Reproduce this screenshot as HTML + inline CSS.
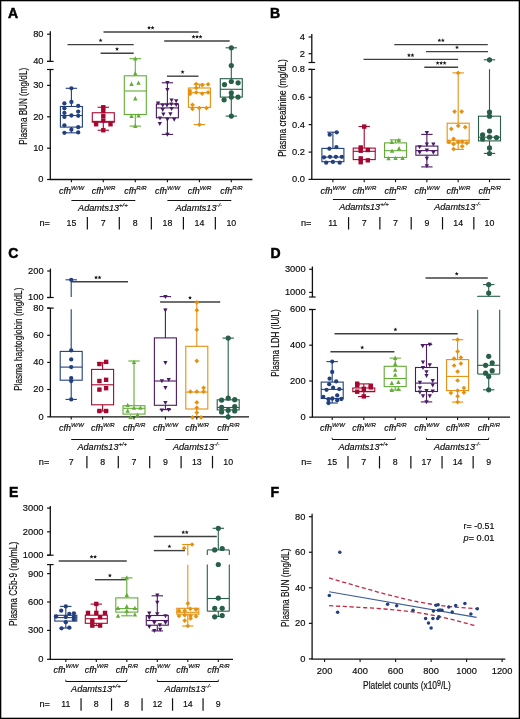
<!DOCTYPE html>
<html><head><meta charset="utf-8"><style>
html,body{margin:0;padding:0;background:#fff;}
svg{display:block;font-family:"Liberation Sans",sans-serif;will-change:transform;}
text{stroke:#0a0a0a;stroke-width:0.16px;}
text.pl{stroke:#000;stroke-width:0.5px;}
</style></head><body>
<svg width="520" height="719" viewBox="0 0 520 719">
<rect x="0" y="0" width="520" height="719" fill="#fff"/>
<text x="8" y="18.2" font-size="14" font-weight="bold" fill="#000" class="pl">A</text>
<line x1="50.30" y1="31.30" x2="50.30" y2="61.40" stroke="#111" stroke-width="1.3"/>
<line x1="47.00" y1="61.40" x2="53.60" y2="61.40" stroke="#111" stroke-width="1.2"/>
<line x1="50.30" y1="69.50" x2="50.30" y2="179.50" stroke="#111" stroke-width="1.3"/>
<line x1="47.00" y1="69.50" x2="53.60" y2="69.50" stroke="#111" stroke-width="1.2"/>
<line x1="47.10" y1="34.20" x2="50.30" y2="34.20" stroke="#111" stroke-width="1.2"/>
<text x="43.50" y="37.10" font-size="9.3" text-anchor="end" fill="#0a0a0a">80</text>
<line x1="47.10" y1="61.40" x2="50.30" y2="61.40" stroke="#111" stroke-width="1.2"/>
<text x="43.50" y="64.30" font-size="9.3" text-anchor="end" fill="#0a0a0a">40</text>
<line x1="47.10" y1="85.40" x2="50.30" y2="85.40" stroke="#111" stroke-width="1.2"/>
<text x="43.50" y="88.30" font-size="9.3" text-anchor="end" fill="#0a0a0a">30</text>
<line x1="47.10" y1="116.80" x2="50.30" y2="116.80" stroke="#111" stroke-width="1.2"/>
<text x="43.50" y="119.70" font-size="9.3" text-anchor="end" fill="#0a0a0a">20</text>
<line x1="47.10" y1="148.20" x2="50.30" y2="148.20" stroke="#111" stroke-width="1.2"/>
<text x="43.50" y="151.10" font-size="9.3" text-anchor="end" fill="#0a0a0a">10</text>
<line x1="47.10" y1="179.50" x2="50.30" y2="179.50" stroke="#111" stroke-width="1.2"/>
<text x="43.50" y="182.40" font-size="9.3" text-anchor="end" fill="#0a0a0a">0</text>
<line x1="49.70" y1="179.50" x2="252.40" y2="179.50" stroke="#111" stroke-width="1.3"/>
<line x1="71.40" y1="179.50" x2="71.40" y2="182.30" stroke="#111" stroke-width="1.1"/>
<line x1="103.30" y1="179.50" x2="103.30" y2="182.30" stroke="#111" stroke-width="1.1"/>
<line x1="135.30" y1="179.50" x2="135.30" y2="182.30" stroke="#111" stroke-width="1.1"/>
<line x1="167.40" y1="179.50" x2="167.40" y2="182.30" stroke="#111" stroke-width="1.1"/>
<line x1="199.40" y1="179.50" x2="199.40" y2="182.30" stroke="#111" stroke-width="1.1"/>
<line x1="231.30" y1="179.50" x2="231.30" y2="182.30" stroke="#111" stroke-width="1.1"/>
<text transform="translate(26.96,106.30) rotate(-90)" x="0" y="0" font-size="10.0" text-anchor="middle" textLength="76.8" lengthAdjust="spacingAndGlyphs" fill="#0a0a0a">Plasma BUN (mg/dL)</text>
<text x="71.60" y="193.9" font-size="9.0" font-style="italic" text-anchor="middle" fill="#0a0a0a">cfh<tspan dy="-4.3" font-size="6.0">W/W</tspan></text>
<text x="103.50" y="193.9" font-size="9.0" font-style="italic" text-anchor="middle" fill="#0a0a0a">cfh<tspan dy="-4.3" font-size="6.0">W/R</tspan></text>
<text x="135.50" y="193.9" font-size="9.0" font-style="italic" text-anchor="middle" fill="#0a0a0a">cfh<tspan dy="-4.3" font-size="6.0">R/R</tspan></text>
<text x="167.60" y="193.9" font-size="9.0" font-style="italic" text-anchor="middle" fill="#0a0a0a">cfh<tspan dy="-4.3" font-size="6.0">W/W</tspan></text>
<text x="199.60" y="193.9" font-size="9.0" font-style="italic" text-anchor="middle" fill="#0a0a0a">cfh<tspan dy="-4.3" font-size="6.0">W/R</tspan></text>
<text x="231.50" y="193.9" font-size="9.0" font-style="italic" text-anchor="middle" fill="#0a0a0a">cfh<tspan dy="-4.3" font-size="6.0">R/R</tspan></text>
<line x1="71.40" y1="200.50" x2="135.30" y2="200.50" stroke="#111" stroke-width="1.15"/>
<line x1="167.40" y1="200.50" x2="231.30" y2="200.50" stroke="#111" stroke-width="1.15"/>
<text x="78.10" y="211.0" font-size="9.1" font-style="italic" fill="#0a0a0a">Adamts13<tspan dy="-4.2" font-size="6">+/+</tspan></text>
<text x="175.50" y="211.0" font-size="9.1" font-style="italic" fill="#0a0a0a">Adamts13<tspan dy="-4.2" font-size="6">-/-</tspan></text>
<text x="39.5" y="226.0" font-size="8.6" textLength="10.5" lengthAdjust="spacingAndGlyphs" fill="#0a0a0a">n=</text>
<text x="71.40" y="226.0" font-size="8.8" text-anchor="middle" fill="#0a0a0a">15</text>
<text x="103.30" y="226.0" font-size="8.8" text-anchor="middle" fill="#0a0a0a">7</text>
<text x="135.30" y="226.0" font-size="8.8" text-anchor="middle" fill="#0a0a0a">8</text>
<text x="167.40" y="226.0" font-size="8.8" text-anchor="middle" fill="#0a0a0a">18</text>
<text x="199.40" y="226.0" font-size="8.8" text-anchor="middle" fill="#0a0a0a">14</text>
<text x="231.30" y="226.0" font-size="8.8" text-anchor="middle" fill="#0a0a0a">10</text>
<line x1="87.35" y1="217.10" x2="87.35" y2="229.50" stroke="#111" stroke-width="1.2"/>
<line x1="119.30" y1="217.10" x2="119.30" y2="229.50" stroke="#111" stroke-width="1.2"/>
<line x1="151.35" y1="217.10" x2="151.35" y2="229.50" stroke="#111" stroke-width="1.2"/>
<line x1="183.40" y1="217.10" x2="183.40" y2="229.50" stroke="#111" stroke-width="1.2"/>
<line x1="215.35" y1="217.10" x2="215.35" y2="229.50" stroke="#111" stroke-width="1.2"/>
<line x1="103.50" y1="32.00" x2="198.50" y2="32.00" stroke="#404040" stroke-width="1.4"/>
<polygon points="149.05,25.70 149.61,27.03 151.05,27.15 149.95,28.09 150.28,29.50 149.05,28.75 147.82,29.50 148.15,28.09 147.05,27.15 148.49,27.03" fill="#1a1a1a"/><polygon points="152.55,25.70 153.11,27.03 154.55,27.15 153.45,28.09 153.78,29.50 152.55,28.75 151.32,29.50 151.65,28.09 150.55,27.15 151.99,27.03" fill="#1a1a1a"/>
<line x1="164.20" y1="41.00" x2="229.70" y2="41.00" stroke="#404040" stroke-width="1.4"/>
<polygon points="193.50,34.70 194.06,36.03 195.50,36.15 194.40,37.09 194.73,38.50 193.50,37.75 192.27,38.50 192.60,37.09 191.50,36.15 192.94,36.03" fill="#1a1a1a"/><polygon points="197.00,34.70 197.56,36.03 199.00,36.15 197.90,37.09 198.23,38.50 197.00,37.75 195.77,38.50 196.10,37.09 195.00,36.15 196.44,36.03" fill="#1a1a1a"/><polygon points="200.50,34.70 201.06,36.03 202.50,36.15 201.40,37.09 201.73,38.50 200.50,37.75 199.27,38.50 199.60,37.09 198.50,36.15 199.94,36.03" fill="#1a1a1a"/>
<line x1="67.50" y1="44.60" x2="133.70" y2="44.60" stroke="#404040" stroke-width="1.4"/>
<polygon points="100.60,38.30 101.16,39.63 102.60,39.75 101.50,40.69 101.83,42.10 100.60,41.35 99.37,42.10 99.70,40.69 98.60,39.75 100.04,39.63" fill="#1a1a1a"/>
<line x1="100.60" y1="53.20" x2="133.70" y2="53.20" stroke="#404040" stroke-width="1.4"/>
<polygon points="117.00,46.90 117.56,48.23 119.00,48.35 117.90,49.29 118.23,50.70 117.00,49.95 115.77,50.70 116.10,49.29 115.00,48.35 116.44,48.23" fill="#1a1a1a"/>
<line x1="167.00" y1="76.20" x2="198.50" y2="76.20" stroke="#404040" stroke-width="1.4"/>
<polygon points="182.60,69.90 183.16,71.23 184.60,71.35 183.50,72.29 183.83,73.70 182.60,72.95 181.37,73.70 181.70,72.29 180.60,71.35 182.04,71.23" fill="#1a1a1a"/>
<g stroke="#22407f" stroke-width="1.1" fill="none"><rect x="60.40" y="106.50" width="22.00" height="20.60"/><line x1="60.40" y1="115.50" x2="82.40" y2="115.50"/><line x1="71.40" y1="88.30" x2="71.40" y2="106.50"/><line x1="71.40" y1="127.10" x2="71.40" y2="132.80"/><line x1="65.70" y1="88.30" x2="77.10" y2="88.30"/><line x1="65.70" y1="132.80" x2="77.10" y2="132.80"/></g><circle cx="71.40" cy="88.30" r="2.15" fill="#22407f"/><circle cx="71.40" cy="102.00" r="2.15" fill="#22407f"/><circle cx="64.40" cy="103.40" r="2.15" fill="#22407f"/><circle cx="78.20" cy="105.90" r="2.15" fill="#22407f"/><circle cx="64.40" cy="108.30" r="2.15" fill="#22407f"/><circle cx="78.20" cy="111.60" r="2.15" fill="#22407f"/><circle cx="64.40" cy="112.90" r="2.15" fill="#22407f"/><circle cx="71.40" cy="115.50" r="2.15" fill="#22407f"/><circle cx="64.40" cy="116.90" r="2.15" fill="#22407f"/><circle cx="78.20" cy="115.80" r="2.15" fill="#22407f"/><circle cx="64.40" cy="125.30" r="2.15" fill="#22407f"/><circle cx="71.40" cy="129.70" r="2.15" fill="#22407f"/><circle cx="78.20" cy="127.20" r="2.15" fill="#22407f"/><circle cx="64.40" cy="132.80" r="2.15" fill="#22407f"/><circle cx="78.20" cy="132.40" r="2.15" fill="#22407f"/>
<g stroke="#a6072f" stroke-width="1.1" fill="none"><rect x="92.30" y="112.75" width="22.00" height="9.45"/><line x1="92.30" y1="121.40" x2="114.30" y2="121.40"/><line x1="103.30" y1="107.25" x2="103.30" y2="112.75"/><line x1="103.30" y1="122.20" x2="103.30" y2="130.25"/><line x1="97.60" y1="107.25" x2="109.00" y2="107.25"/><line x1="97.60" y1="130.25" x2="109.00" y2="130.25"/></g><rect x="101.10" y="105.05" width="4.4" height="4.4" fill="#a6072f"/><rect x="101.10" y="108.80" width="4.4" height="4.4" fill="#a6072f"/><rect x="101.10" y="113.80" width="4.4" height="4.4" fill="#a6072f"/><rect x="101.10" y="118.30" width="4.4" height="4.4" fill="#a6072f"/><rect x="93.90" y="122.05" width="4.4" height="4.4" fill="#a6072f"/><rect x="108.30" y="122.05" width="4.4" height="4.4" fill="#a6072f"/><rect x="101.10" y="128.05" width="4.4" height="4.4" fill="#a6072f"/>
<g stroke="#62ad36" stroke-width="1.1" fill="none"><rect x="124.30" y="75.80" width="22.00" height="38.70"/><line x1="124.30" y1="91.00" x2="146.30" y2="91.00"/><line x1="135.30" y1="58.70" x2="135.30" y2="75.80"/><line x1="135.30" y1="114.50" x2="135.30" y2="126.10"/><line x1="129.60" y1="58.70" x2="141.00" y2="58.70"/><line x1="129.60" y1="126.10" x2="141.00" y2="126.10"/></g><polygon points="135.30,56.20 133.10,60.50 137.50,60.50" fill="#62ad36"/><polygon points="135.30,70.90 133.10,75.20 137.50,75.20" fill="#62ad36"/><polygon points="131.50,81.60 129.30,85.90 133.70,85.90" fill="#62ad36"/><polygon points="138.50,80.40 136.30,84.70 140.70,84.70" fill="#62ad36"/><polygon points="135.30,96.10 133.10,100.40 137.50,100.40" fill="#62ad36"/><polygon points="131.50,113.60 129.30,117.90 133.70,117.90" fill="#62ad36"/><polygon points="138.60,113.20 136.40,117.50 140.80,117.50" fill="#62ad36"/><polygon points="135.30,123.60 133.10,127.90 137.50,127.90" fill="#62ad36"/>
<g stroke="#4a1a64" stroke-width="1.1" fill="none"><rect x="156.40" y="104.00" width="22.00" height="13.80"/><line x1="156.40" y1="107.90" x2="178.40" y2="107.90"/><line x1="167.40" y1="82.80" x2="167.40" y2="104.00"/><line x1="167.40" y1="117.80" x2="167.40" y2="134.40"/><line x1="161.70" y1="82.80" x2="173.10" y2="82.80"/><line x1="161.70" y1="134.40" x2="173.10" y2="134.40"/></g><polygon points="167.40,85.10 165.25,81.10 169.55,81.10" fill="#4a1a64"/><polygon points="167.40,91.90 165.25,87.90 169.55,87.90" fill="#4a1a64"/><polygon points="158.10,105.60 155.95,101.60 160.25,101.60" fill="#4a1a64"/><polygon points="162.70,107.50 160.55,103.50 164.85,103.50" fill="#4a1a64"/><polygon points="167.00,107.50 164.85,103.50 169.15,103.50" fill="#4a1a64"/><polygon points="171.60,102.50 169.45,98.50 173.75,98.50" fill="#4a1a64"/><polygon points="176.20,103.20 174.05,99.20 178.35,99.20" fill="#4a1a64"/><polygon points="171.30,106.60 169.15,102.60 173.45,102.60" fill="#4a1a64"/><polygon points="176.20,107.00 174.05,103.00 178.35,103.00" fill="#4a1a64"/><polygon points="162.70,112.10 160.55,108.10 164.85,108.10" fill="#4a1a64"/><polygon points="171.60,111.10 169.45,107.10 173.75,107.10" fill="#4a1a64"/><polygon points="163.40,116.40 161.25,112.40 165.55,112.40" fill="#4a1a64"/><polygon points="170.40,116.20 168.25,112.20 172.55,112.20" fill="#4a1a64"/><polygon points="160.00,120.50 157.85,116.50 162.15,116.50" fill="#4a1a64"/><polygon points="167.40,121.70 165.25,117.70 169.55,117.70" fill="#4a1a64"/><polygon points="174.20,121.70 172.05,117.70 176.35,117.70" fill="#4a1a64"/><polygon points="159.80,126.10 157.65,122.10 161.95,122.10" fill="#4a1a64"/><polygon points="167.40,136.70 165.25,132.70 169.55,132.70" fill="#4a1a64"/>
<g stroke="#e5900f" stroke-width="1.1" fill="none"><rect x="188.40" y="88.00" width="22.00" height="19.40"/><line x1="188.40" y1="92.70" x2="210.40" y2="92.70"/><line x1="199.40" y1="84.20" x2="199.40" y2="88.00"/><line x1="199.40" y1="107.40" x2="199.40" y2="124.60"/><line x1="193.70" y1="84.20" x2="205.10" y2="84.20"/><line x1="193.70" y1="124.60" x2="205.10" y2="124.60"/></g><polygon points="196.20,81.65 198.55,84.00 196.20,86.35 193.85,84.00" fill="#e5900f"/><polygon points="202.20,82.75 204.55,85.10 202.20,87.45 199.85,85.10" fill="#e5900f"/><polygon points="208.10,81.95 210.45,84.30 208.10,86.65 205.75,84.30" fill="#e5900f"/><polygon points="196.20,85.45 198.55,87.80 196.20,90.15 193.85,87.80" fill="#e5900f"/><polygon points="190.00,88.45 192.35,90.80 190.00,93.15 187.65,90.80" fill="#e5900f"/><polygon points="190.00,91.65 192.35,94.00 190.00,96.35 187.65,94.00" fill="#e5900f"/><polygon points="196.20,90.05 198.55,92.40 196.20,94.75 193.85,92.40" fill="#e5900f"/><polygon points="202.20,91.35 204.55,93.70 202.20,96.05 199.85,93.70" fill="#e5900f"/><polygon points="208.10,90.05 210.45,92.40 208.10,94.75 205.75,92.40" fill="#e5900f"/><polygon points="192.50,102.45 194.85,104.80 192.50,107.15 190.15,104.80" fill="#e5900f"/><polygon points="192.50,106.55 194.85,108.90 192.50,111.25 190.15,108.90" fill="#e5900f"/><polygon points="199.20,105.75 201.55,108.10 199.20,110.45 196.85,108.10" fill="#e5900f"/><polygon points="206.50,105.75 208.85,108.10 206.50,110.45 204.15,108.10" fill="#e5900f"/><polygon points="199.40,122.25 201.75,124.60 199.40,126.95 197.05,124.60" fill="#e5900f"/>
<g stroke="#275f49" stroke-width="1.1" fill="none"><rect x="220.30" y="78.70" width="22.00" height="18.40"/><line x1="220.30" y1="89.30" x2="242.30" y2="89.30"/><line x1="231.30" y1="47.80" x2="231.30" y2="78.70"/><line x1="231.30" y1="97.10" x2="231.30" y2="116.10"/><line x1="225.60" y1="47.80" x2="237.00" y2="47.80"/><line x1="225.60" y1="116.10" x2="237.00" y2="116.10"/></g><circle cx="231.30" cy="47.80" r="2.6" fill="#275f49"/><circle cx="231.30" cy="65.60" r="2.6" fill="#275f49"/><circle cx="231.30" cy="81.50" r="2.6" fill="#275f49"/><circle cx="224.50" cy="84.60" r="2.6" fill="#275f49"/><circle cx="238.10" cy="82.80" r="2.6" fill="#275f49"/><circle cx="231.30" cy="92.80" r="2.6" fill="#275f49"/><circle cx="231.30" cy="97.10" r="2.6" fill="#275f49"/><circle cx="238.00" cy="97.10" r="2.6" fill="#275f49"/><circle cx="224.10" cy="99.80" r="2.6" fill="#275f49"/><circle cx="231.30" cy="116.10" r="2.6" fill="#275f49"/>
<text x="270" y="18.3" font-size="14" font-weight="bold" fill="#000" class="pl">B</text>
<line x1="311.80" y1="34.10" x2="311.80" y2="62.50" stroke="#111" stroke-width="1.3"/>
<line x1="308.50" y1="62.50" x2="315.10" y2="62.50" stroke="#111" stroke-width="1.2"/>
<line x1="311.80" y1="69.40" x2="311.80" y2="179.40" stroke="#111" stroke-width="1.3"/>
<line x1="308.50" y1="69.40" x2="315.10" y2="69.40" stroke="#111" stroke-width="1.2"/>
<line x1="308.60" y1="37.00" x2="311.80" y2="37.00" stroke="#111" stroke-width="1.2"/>
<text x="305.00" y="39.90" font-size="9.3" text-anchor="end" fill="#0a0a0a">4</text>
<line x1="308.60" y1="53.70" x2="311.80" y2="53.70" stroke="#111" stroke-width="1.2"/>
<text x="305.00" y="56.60" font-size="9.3" text-anchor="end" fill="#0a0a0a">2</text>
<line x1="308.60" y1="69.40" x2="311.80" y2="69.40" stroke="#111" stroke-width="1.2"/>
<text x="305.00" y="72.30" font-size="9.3" text-anchor="end" fill="#0a0a0a">0.8</text>
<line x1="308.60" y1="97.30" x2="311.80" y2="97.30" stroke="#111" stroke-width="1.2"/>
<text x="305.00" y="100.20" font-size="9.3" text-anchor="end" fill="#0a0a0a">0.6</text>
<line x1="308.60" y1="124.60" x2="311.80" y2="124.60" stroke="#111" stroke-width="1.2"/>
<text x="305.00" y="127.50" font-size="9.3" text-anchor="end" fill="#0a0a0a">0.4</text>
<line x1="308.60" y1="152.10" x2="311.80" y2="152.10" stroke="#111" stroke-width="1.2"/>
<text x="305.00" y="155.00" font-size="9.3" text-anchor="end" fill="#0a0a0a">0.2</text>
<line x1="308.60" y1="179.40" x2="311.80" y2="179.40" stroke="#111" stroke-width="1.2"/>
<text x="305.00" y="182.30" font-size="9.3" text-anchor="end" fill="#0a0a0a">0.0</text>
<line x1="311.20" y1="179.40" x2="510.30" y2="179.40" stroke="#111" stroke-width="1.3"/>
<line x1="332.90" y1="179.40" x2="332.90" y2="182.20" stroke="#111" stroke-width="1.1"/>
<line x1="364.22" y1="179.40" x2="364.22" y2="182.20" stroke="#111" stroke-width="1.1"/>
<line x1="395.54" y1="179.40" x2="395.54" y2="182.20" stroke="#111" stroke-width="1.1"/>
<line x1="426.86" y1="179.40" x2="426.86" y2="182.20" stroke="#111" stroke-width="1.1"/>
<line x1="458.18" y1="179.40" x2="458.18" y2="182.20" stroke="#111" stroke-width="1.1"/>
<line x1="489.50" y1="179.40" x2="489.50" y2="182.20" stroke="#111" stroke-width="1.1"/>
<text transform="translate(286.06,108.00) rotate(-90)" x="0" y="0" font-size="10.0" text-anchor="middle" textLength="97.5" lengthAdjust="spacingAndGlyphs" fill="#0a0a0a">Plasma creatinine (mg/dL)</text>
<text x="333.10" y="193.8" font-size="9.0" font-style="italic" text-anchor="middle" fill="#0a0a0a">cfh<tspan dy="-4.3" font-size="6.0">W/W</tspan></text>
<text x="364.42" y="193.8" font-size="9.0" font-style="italic" text-anchor="middle" fill="#0a0a0a">cfh<tspan dy="-4.3" font-size="6.0">W/R</tspan></text>
<text x="395.74" y="193.8" font-size="9.0" font-style="italic" text-anchor="middle" fill="#0a0a0a">cfh<tspan dy="-4.3" font-size="6.0">R/R</tspan></text>
<text x="427.06" y="193.8" font-size="9.0" font-style="italic" text-anchor="middle" fill="#0a0a0a">cfh<tspan dy="-4.3" font-size="6.0">W/W</tspan></text>
<text x="458.38" y="193.8" font-size="9.0" font-style="italic" text-anchor="middle" fill="#0a0a0a">cfh<tspan dy="-4.3" font-size="6.0">W/R</tspan></text>
<text x="489.70" y="193.8" font-size="9.0" font-style="italic" text-anchor="middle" fill="#0a0a0a">cfh<tspan dy="-4.3" font-size="6.0">R/R</tspan></text>
<line x1="332.90" y1="199.50" x2="395.54" y2="199.50" stroke="#111" stroke-width="1.15"/>
<line x1="426.86" y1="199.50" x2="489.50" y2="199.50" stroke="#111" stroke-width="1.15"/>
<text x="339.20" y="210.3" font-size="9.1" font-style="italic" fill="#0a0a0a">Adamts13<tspan dy="-4.2" font-size="6">+/+</tspan></text>
<text x="434.26" y="210.3" font-size="9.1" font-style="italic" fill="#0a0a0a">Adamts13<tspan dy="-4.2" font-size="6">-/-</tspan></text>
<text x="301.0" y="226.0" font-size="8.6" textLength="10.5" lengthAdjust="spacingAndGlyphs" fill="#0a0a0a">n=</text>
<text x="332.90" y="226.0" font-size="8.8" text-anchor="middle" fill="#0a0a0a">11</text>
<text x="364.22" y="226.0" font-size="8.8" text-anchor="middle" fill="#0a0a0a">7</text>
<text x="395.54" y="226.0" font-size="8.8" text-anchor="middle" fill="#0a0a0a">7</text>
<text x="426.86" y="226.0" font-size="8.8" text-anchor="middle" fill="#0a0a0a">9</text>
<text x="458.18" y="226.0" font-size="8.8" text-anchor="middle" fill="#0a0a0a">14</text>
<text x="489.50" y="226.0" font-size="8.8" text-anchor="middle" fill="#0a0a0a">10</text>
<line x1="348.56" y1="217.10" x2="348.56" y2="229.50" stroke="#111" stroke-width="1.2"/>
<line x1="379.88" y1="217.10" x2="379.88" y2="229.50" stroke="#111" stroke-width="1.2"/>
<line x1="411.20" y1="217.10" x2="411.20" y2="229.50" stroke="#111" stroke-width="1.2"/>
<line x1="442.52" y1="217.10" x2="442.52" y2="229.50" stroke="#111" stroke-width="1.2"/>
<line x1="473.84" y1="217.10" x2="473.84" y2="229.50" stroke="#111" stroke-width="1.2"/>
<line x1="394.30" y1="44.60" x2="487.80" y2="44.60" stroke="#404040" stroke-width="1.4"/>
<polygon points="439.35,38.30 439.91,39.63 441.35,39.75 440.25,40.69 440.58,42.10 439.35,41.35 438.12,42.10 438.45,40.69 437.35,39.75 438.79,39.63" fill="#1a1a1a"/><polygon points="442.85,38.30 443.41,39.63 444.85,39.75 443.75,40.69 444.08,42.10 442.85,41.35 441.62,42.10 441.95,40.69 440.85,39.75 442.29,39.63" fill="#1a1a1a"/>
<line x1="426.00" y1="51.60" x2="488.00" y2="51.60" stroke="#404040" stroke-width="1.4"/>
<polygon points="457.00,45.30 457.56,46.63 459.00,46.75 457.90,47.69 458.23,49.10 457.00,48.35 455.77,49.10 456.10,47.69 455.00,46.75 456.44,46.63" fill="#1a1a1a"/>
<line x1="363.50" y1="59.40" x2="458.10" y2="59.40" stroke="#404040" stroke-width="1.4"/>
<polygon points="408.95,53.10 409.51,54.43 410.95,54.55 409.85,55.49 410.18,56.90 408.95,56.15 407.72,56.90 408.05,55.49 406.95,54.55 408.39,54.43" fill="#1a1a1a"/><polygon points="412.45,53.10 413.01,54.43 414.45,54.55 413.35,55.49 413.68,56.90 412.45,56.15 411.22,56.90 411.55,55.49 410.45,54.55 411.89,54.43" fill="#1a1a1a"/>
<line x1="424.30" y1="67.20" x2="458.10" y2="67.20" stroke="#404040" stroke-width="1.4"/>
<polygon points="437.60,60.90 438.16,62.23 439.60,62.35 438.50,63.29 438.83,64.70 437.60,63.95 436.37,64.70 436.70,63.29 435.60,62.35 437.04,62.23" fill="#1a1a1a"/><polygon points="441.10,60.90 441.66,62.23 443.10,62.35 442.00,63.29 442.33,64.70 441.10,63.95 439.87,64.70 440.20,63.29 439.10,62.35 440.54,62.23" fill="#1a1a1a"/><polygon points="444.60,60.90 445.16,62.23 446.60,62.35 445.50,63.29 445.83,64.70 444.60,63.95 443.37,64.70 443.70,63.29 442.60,62.35 444.04,62.23" fill="#1a1a1a"/>
<g stroke="#22407f" stroke-width="1.1" fill="none"><rect x="321.90" y="148.40" width="22.00" height="13.30"/><line x1="321.90" y1="157.10" x2="343.90" y2="157.10"/><line x1="332.90" y1="132.20" x2="332.90" y2="148.40"/><line x1="327.20" y1="132.20" x2="338.60" y2="132.20"/></g><circle cx="329.70" cy="134.70" r="2.15" fill="#22407f"/><circle cx="336.70" cy="132.30" r="2.15" fill="#22407f"/><circle cx="329.40" cy="148.70" r="2.15" fill="#22407f"/><circle cx="336.40" cy="147.10" r="2.15" fill="#22407f"/><circle cx="324.00" cy="157.30" r="2.15" fill="#22407f"/><circle cx="330.00" cy="156.80" r="2.15" fill="#22407f"/><circle cx="335.90" cy="156.80" r="2.15" fill="#22407f"/><circle cx="341.80" cy="156.80" r="2.15" fill="#22407f"/><circle cx="326.20" cy="162.70" r="2.15" fill="#22407f"/><circle cx="332.90" cy="161.90" r="2.15" fill="#22407f"/><circle cx="339.70" cy="162.70" r="2.15" fill="#22407f"/>
<g stroke="#a6072f" stroke-width="1.1" fill="none"><rect x="353.22" y="148.10" width="22.00" height="11.50"/><line x1="353.22" y1="151.30" x2="375.22" y2="151.30"/><line x1="364.22" y1="126.50" x2="364.22" y2="148.10"/><line x1="358.52" y1="126.50" x2="369.92" y2="126.50"/></g><rect x="362.02" y="124.40" width="4.4" height="4.4" fill="#a6072f"/><rect x="358.52" y="145.30" width="4.4" height="4.4" fill="#a6072f"/><rect x="358.52" y="148.50" width="4.4" height="4.4" fill="#a6072f"/><rect x="365.62" y="147.80" width="4.4" height="4.4" fill="#a6072f"/><rect x="358.52" y="156.20" width="4.4" height="4.4" fill="#a6072f"/><rect x="358.52" y="160.00" width="4.4" height="4.4" fill="#a6072f"/><rect x="365.62" y="158.10" width="4.4" height="4.4" fill="#a6072f"/>
<g stroke="#62ad36" stroke-width="1.1" fill="none"><rect x="384.54" y="142.90" width="22.00" height="14.60"/><line x1="384.54" y1="150.70" x2="406.54" y2="150.70"/><line x1="395.54" y1="139.90" x2="395.54" y2="142.90"/><line x1="389.84" y1="139.90" x2="401.24" y2="139.90"/></g><polygon points="391.74,139.60 389.54,143.90 393.94,143.90" fill="#62ad36"/><polygon points="398.74,137.70 396.54,142.00 400.94,142.00" fill="#62ad36"/><polygon points="392.04,148.50 389.84,152.80 394.24,152.80" fill="#62ad36"/><polygon points="399.04,146.10 396.84,150.40 401.24,150.40" fill="#62ad36"/><polygon points="388.54,156.00 386.34,160.30 390.74,160.30" fill="#62ad36"/><polygon points="395.54,155.80 393.34,160.10 397.74,160.10" fill="#62ad36"/><polygon points="402.54,155.80 400.34,160.10 404.74,160.10" fill="#62ad36"/>
<g stroke="#4a1a64" stroke-width="1.1" fill="none"><rect x="415.86" y="146.10" width="22.00" height="9.10"/><line x1="415.86" y1="150.60" x2="437.86" y2="150.60"/><line x1="426.86" y1="134.40" x2="426.86" y2="146.10"/><line x1="426.86" y1="155.20" x2="426.86" y2="166.90"/><line x1="421.16" y1="134.40" x2="432.56" y2="134.40"/><line x1="421.16" y1="166.90" x2="432.56" y2="166.90"/></g><polygon points="426.86,135.10 424.71,131.10 429.01,131.10" fill="#4a1a64"/><polygon points="426.86,146.60 424.71,142.60 429.01,142.60" fill="#4a1a64"/><polygon points="433.36,146.60 431.21,142.60 435.51,142.60" fill="#4a1a64"/><polygon points="419.66,149.20 417.51,145.20 421.81,145.20" fill="#4a1a64"/><polygon points="426.86,152.50 424.71,148.50 429.01,148.50" fill="#4a1a64"/><polygon points="419.66,154.80 417.51,150.80 421.81,150.80" fill="#4a1a64"/><polygon points="433.36,154.80 431.21,150.80 435.51,150.80" fill="#4a1a64"/><polygon points="426.86,160.70 424.71,156.70 429.01,156.70" fill="#4a1a64"/><polygon points="426.86,168.20 424.71,164.20 429.01,164.20" fill="#4a1a64"/>
<g stroke="#e5900f" stroke-width="1.1" fill="none"><rect x="447.18" y="123.20" width="22.00" height="19.80"/><line x1="447.18" y1="140.30" x2="469.18" y2="140.30"/><line x1="458.18" y1="72.90" x2="458.18" y2="123.20"/><line x1="458.18" y1="143.00" x2="458.18" y2="149.40"/><line x1="452.48" y1="72.90" x2="463.88" y2="72.90"/><line x1="452.48" y1="149.40" x2="463.88" y2="149.40"/></g><polygon points="458.18,70.55 460.53,72.90 458.18,75.25 455.83,72.90" fill="#e5900f"/><polygon points="454.58,109.25 456.93,111.60 454.58,113.95 452.23,111.60" fill="#e5900f"/><polygon points="461.68,109.25 464.03,111.60 461.68,113.95 459.33,111.60" fill="#e5900f"/><polygon points="458.18,123.45 460.53,125.80 458.18,128.15 455.83,125.80" fill="#e5900f"/><polygon points="451.28,126.55 453.63,128.90 451.28,131.25 448.93,128.90" fill="#e5900f"/><polygon points="465.18,124.85 467.53,127.20 465.18,129.55 462.83,127.20" fill="#e5900f"/><polygon points="453.58,136.45 455.93,138.80 453.58,141.15 451.23,138.80" fill="#e5900f"/><polygon points="448.98,139.55 451.33,141.90 448.98,144.25 446.63,141.90" fill="#e5900f"/><polygon points="453.58,141.85 455.93,144.20 453.58,146.55 451.23,144.20" fill="#e5900f"/><polygon points="458.18,139.55 460.53,141.90 458.18,144.25 455.83,141.90" fill="#e5900f"/><polygon points="462.28,139.25 464.63,141.60 462.28,143.95 459.93,141.60" fill="#e5900f"/><polygon points="466.88,140.75 469.23,143.10 466.88,145.45 464.53,143.10" fill="#e5900f"/><polygon points="462.28,143.95 464.63,146.30 462.28,148.65 459.93,146.30" fill="#e5900f"/><polygon points="453.58,146.75 455.93,149.10 453.58,151.45 451.23,149.10" fill="#e5900f"/>
<g stroke="#275f49" stroke-width="1.1" fill="none"><rect x="478.50" y="116.20" width="22.00" height="24.70"/><line x1="478.50" y1="137.20" x2="500.50" y2="137.20"/><line x1="489.50" y1="59.80" x2="489.50" y2="62.50"/><line x1="489.50" y1="69.20" x2="489.50" y2="116.20"/><line x1="489.50" y1="140.90" x2="489.50" y2="153.40"/><line x1="483.80" y1="59.80" x2="495.20" y2="59.80"/><line x1="483.80" y1="153.40" x2="495.20" y2="153.40"/></g><circle cx="489.50" cy="59.80" r="2.6" fill="#275f49"/><circle cx="489.50" cy="112.00" r="2.6" fill="#275f49"/><circle cx="489.50" cy="116.20" r="2.6" fill="#275f49"/><circle cx="489.50" cy="131.10" r="2.6" fill="#275f49"/><circle cx="482.60" cy="134.80" r="2.6" fill="#275f49"/><circle cx="482.60" cy="139.00" r="2.6" fill="#275f49"/><circle cx="489.50" cy="137.20" r="2.6" fill="#275f49"/><circle cx="496.50" cy="137.60" r="2.6" fill="#275f49"/><circle cx="489.50" cy="147.90" r="2.6" fill="#275f49"/><circle cx="489.50" cy="153.50" r="2.6" fill="#275f49"/>
<text x="8.2" y="257.9" font-size="14" font-weight="bold" fill="#000" class="pl">C</text>
<line x1="50.40" y1="268.60" x2="50.40" y2="297.50" stroke="#111" stroke-width="1.3"/>
<line x1="47.10" y1="297.50" x2="53.70" y2="297.50" stroke="#111" stroke-width="1.2"/>
<line x1="50.40" y1="308.10" x2="50.40" y2="416.80" stroke="#111" stroke-width="1.3"/>
<line x1="47.10" y1="308.10" x2="53.70" y2="308.10" stroke="#111" stroke-width="1.2"/>
<line x1="47.20" y1="271.00" x2="50.40" y2="271.00" stroke="#111" stroke-width="1.2"/>
<text x="43.60" y="273.90" font-size="9.3" text-anchor="end" fill="#0a0a0a">200</text>
<line x1="47.20" y1="297.50" x2="50.40" y2="297.50" stroke="#111" stroke-width="1.2"/>
<text x="43.60" y="300.40" font-size="9.3" text-anchor="end" fill="#0a0a0a">100</text>
<line x1="47.20" y1="308.10" x2="50.40" y2="308.10" stroke="#111" stroke-width="1.2"/>
<text x="43.60" y="311.00" font-size="9.3" text-anchor="end" fill="#0a0a0a">80</text>
<line x1="47.20" y1="335.30" x2="50.40" y2="335.30" stroke="#111" stroke-width="1.2"/>
<text x="43.60" y="338.20" font-size="9.3" text-anchor="end" fill="#0a0a0a">60</text>
<line x1="47.20" y1="362.40" x2="50.40" y2="362.40" stroke="#111" stroke-width="1.2"/>
<text x="43.60" y="365.30" font-size="9.3" text-anchor="end" fill="#0a0a0a">40</text>
<line x1="47.20" y1="389.50" x2="50.40" y2="389.50" stroke="#111" stroke-width="1.2"/>
<text x="43.60" y="392.40" font-size="9.3" text-anchor="end" fill="#0a0a0a">20</text>
<line x1="47.20" y1="416.80" x2="50.40" y2="416.80" stroke="#111" stroke-width="1.2"/>
<text x="43.60" y="419.70" font-size="9.3" text-anchor="end" fill="#0a0a0a">0</text>
<line x1="49.80" y1="416.80" x2="249.00" y2="416.80" stroke="#111" stroke-width="1.3"/>
<line x1="71.20" y1="416.80" x2="71.20" y2="419.60" stroke="#111" stroke-width="1.1"/>
<line x1="102.60" y1="416.80" x2="102.60" y2="419.60" stroke="#111" stroke-width="1.1"/>
<line x1="134.00" y1="416.80" x2="134.00" y2="419.60" stroke="#111" stroke-width="1.1"/>
<line x1="165.40" y1="416.80" x2="165.40" y2="419.60" stroke="#111" stroke-width="1.1"/>
<line x1="196.80" y1="416.80" x2="196.80" y2="419.60" stroke="#111" stroke-width="1.1"/>
<line x1="228.20" y1="416.80" x2="228.20" y2="419.60" stroke="#111" stroke-width="1.1"/>
<text transform="translate(21.66,339.20) rotate(-90)" x="0" y="0" font-size="10.0" text-anchor="middle" textLength="103.3" lengthAdjust="spacingAndGlyphs" fill="#0a0a0a">Plasma haptoglobin (mg/dL)</text>
<text x="71.40" y="431.0" font-size="9.0" font-style="italic" text-anchor="middle" fill="#0a0a0a">cfh<tspan dy="-4.3" font-size="6.0">W/W</tspan></text>
<text x="102.80" y="431.0" font-size="9.0" font-style="italic" text-anchor="middle" fill="#0a0a0a">cfh<tspan dy="-4.3" font-size="6.0">W/R</tspan></text>
<text x="134.20" y="431.0" font-size="9.0" font-style="italic" text-anchor="middle" fill="#0a0a0a">cfh<tspan dy="-4.3" font-size="6.0">R/R</tspan></text>
<text x="165.60" y="431.0" font-size="9.0" font-style="italic" text-anchor="middle" fill="#0a0a0a">cfh<tspan dy="-4.3" font-size="6.0">W/W</tspan></text>
<text x="197.00" y="431.0" font-size="9.0" font-style="italic" text-anchor="middle" fill="#0a0a0a">cfh<tspan dy="-4.3" font-size="6.0">W/R</tspan></text>
<text x="228.40" y="431.0" font-size="9.0" font-style="italic" text-anchor="middle" fill="#0a0a0a">cfh<tspan dy="-4.3" font-size="6.0">R/R</tspan></text>
<line x1="71.20" y1="439.50" x2="134.00" y2="439.50" stroke="#111" stroke-width="1.15"/>
<line x1="165.40" y1="439.50" x2="228.20" y2="439.50" stroke="#111" stroke-width="1.15"/>
<text x="77.50" y="449.9" font-size="9.1" font-style="italic" fill="#0a0a0a">Adamts13<tspan dy="-4.2" font-size="6">+/+</tspan></text>
<text x="173.00" y="449.9" font-size="9.1" font-style="italic" fill="#0a0a0a">Adamts13<tspan dy="-4.2" font-size="6">-/-</tspan></text>
<text x="38.8" y="464.8" font-size="8.6" textLength="10.5" lengthAdjust="spacingAndGlyphs" fill="#0a0a0a">n=</text>
<text x="71.20" y="464.8" font-size="8.8" text-anchor="middle" fill="#0a0a0a">7</text>
<text x="102.60" y="464.8" font-size="8.8" text-anchor="middle" fill="#0a0a0a">8</text>
<text x="134.00" y="464.8" font-size="8.8" text-anchor="middle" fill="#0a0a0a">7</text>
<text x="165.40" y="464.8" font-size="8.8" text-anchor="middle" fill="#0a0a0a">9</text>
<text x="196.80" y="464.8" font-size="8.8" text-anchor="middle" fill="#0a0a0a">13</text>
<text x="228.20" y="464.8" font-size="8.8" text-anchor="middle" fill="#0a0a0a">10</text>
<line x1="86.90" y1="455.90" x2="86.90" y2="468.30" stroke="#111" stroke-width="1.2"/>
<line x1="118.30" y1="455.90" x2="118.30" y2="468.30" stroke="#111" stroke-width="1.2"/>
<line x1="149.70" y1="455.90" x2="149.70" y2="468.30" stroke="#111" stroke-width="1.2"/>
<line x1="181.10" y1="455.90" x2="181.10" y2="468.30" stroke="#111" stroke-width="1.2"/>
<line x1="212.50" y1="455.90" x2="212.50" y2="468.30" stroke="#111" stroke-width="1.2"/>
<line x1="71.10" y1="281.70" x2="128.00" y2="281.70" stroke="#404040" stroke-width="1.4"/>
<polygon points="96.05,275.40 96.61,276.73 98.05,276.85 96.95,277.79 97.28,279.20 96.05,278.45 94.82,279.20 95.15,277.79 94.05,276.85 95.49,276.73" fill="#1a1a1a"/><polygon points="99.55,275.40 100.11,276.73 101.55,276.85 100.45,277.79 100.78,279.20 99.55,278.45 98.32,279.20 98.65,277.79 97.55,276.85 98.99,276.73" fill="#1a1a1a"/>
<line x1="160.10" y1="302.00" x2="220.20" y2="302.00" stroke="#404040" stroke-width="1.4"/>
<polygon points="190.00,295.70 190.56,297.03 192.00,297.15 190.90,298.09 191.23,299.50 190.00,298.75 188.77,299.50 189.10,298.09 188.00,297.15 189.44,297.03" fill="#1a1a1a"/>
<g stroke="#22407f" stroke-width="1.1" fill="none"><rect x="60.20" y="351.40" width="22.00" height="28.80"/><line x1="60.20" y1="367.10" x2="82.20" y2="367.10"/><line x1="71.20" y1="279.80" x2="71.20" y2="297.10"/><line x1="71.20" y1="309.20" x2="71.20" y2="351.40"/><line x1="71.20" y1="380.20" x2="71.20" y2="399.40"/><line x1="65.50" y1="279.80" x2="76.90" y2="279.80"/><line x1="65.50" y1="399.40" x2="76.90" y2="399.40"/></g><circle cx="71.20" cy="279.80" r="2.15" fill="#22407f"/><circle cx="71.20" cy="350.40" r="2.15" fill="#22407f"/><circle cx="71.20" cy="359.40" r="2.15" fill="#22407f"/><circle cx="71.20" cy="367.10" r="2.15" fill="#22407f"/><circle cx="71.20" cy="378.10" r="2.15" fill="#22407f"/><circle cx="71.20" cy="381.10" r="2.15" fill="#22407f"/><circle cx="71.20" cy="399.40" r="2.15" fill="#22407f"/>
<g stroke="#a6072f" stroke-width="1.1" fill="none"><rect x="91.60" y="369.40" width="22.00" height="35.40"/><line x1="91.60" y1="384.80" x2="113.60" y2="384.80"/><line x1="102.60" y1="362.80" x2="102.60" y2="369.40"/><line x1="102.60" y1="404.80" x2="102.60" y2="411.00"/><line x1="96.90" y1="362.80" x2="108.30" y2="362.80"/><line x1="96.90" y1="411.00" x2="108.30" y2="411.00"/></g><rect x="97.20" y="361.80" width="4.4" height="4.4" fill="#a6072f"/><rect x="103.90" y="359.70" width="4.4" height="4.4" fill="#a6072f"/><rect x="97.20" y="378.80" width="4.4" height="4.4" fill="#a6072f"/><rect x="103.90" y="377.60" width="4.4" height="4.4" fill="#a6072f"/><rect x="97.20" y="387.40" width="4.4" height="4.4" fill="#a6072f"/><rect x="103.90" y="386.00" width="4.4" height="4.4" fill="#a6072f"/><rect x="97.20" y="408.80" width="4.4" height="4.4" fill="#a6072f"/><rect x="103.90" y="408.80" width="4.4" height="4.4" fill="#a6072f"/>
<g stroke="#62ad36" stroke-width="1.1" fill="none"><rect x="123.00" y="405.70" width="22.00" height="8.40"/><line x1="123.00" y1="408.30" x2="145.00" y2="408.30"/><line x1="134.00" y1="361.00" x2="134.00" y2="405.70"/><line x1="128.30" y1="361.00" x2="139.70" y2="361.00"/></g><polygon points="134.00,359.70 131.80,364.00 136.20,364.00" fill="#62ad36"/><polygon points="127.70,402.70 125.50,407.00 129.90,407.00" fill="#62ad36"/><polygon points="127.70,408.50 125.50,412.80 129.90,412.80" fill="#62ad36"/><polygon points="134.00,405.50 131.80,409.80 136.20,409.80" fill="#62ad36"/><polygon points="140.40,405.50 138.20,409.80 142.60,409.80" fill="#62ad36"/><polygon points="130.60,414.80 128.40,419.10 132.80,419.10" fill="#62ad36"/><polygon points="137.50,412.50 135.30,416.80 139.70,416.80" fill="#62ad36"/>
<g stroke="#4a1a64" stroke-width="1.1" fill="none"><rect x="154.40" y="337.90" width="22.00" height="67.40"/><line x1="154.40" y1="381.00" x2="176.40" y2="381.00"/><line x1="165.40" y1="296.60" x2="165.40" y2="297.50"/><line x1="165.40" y1="308.50" x2="165.40" y2="337.90"/><line x1="165.40" y1="405.30" x2="165.40" y2="409.60"/><line x1="159.70" y1="296.60" x2="171.10" y2="296.60"/><line x1="159.70" y1="409.60" x2="171.10" y2="409.60"/></g><polygon points="165.40,298.90 163.25,294.90 167.55,294.90" fill="#4a1a64"/><polygon points="165.40,312.50 163.25,308.50 167.55,308.50" fill="#4a1a64"/><polygon points="165.40,365.10 163.25,361.10 167.55,361.10" fill="#4a1a64"/><polygon points="161.90,383.30 159.75,379.30 164.05,379.30" fill="#4a1a64"/><polygon points="168.70,382.10 166.55,378.10 170.85,378.10" fill="#4a1a64"/><polygon points="165.40,389.90 163.25,385.90 167.55,385.90" fill="#4a1a64"/><polygon points="165.40,405.10 163.25,401.10 167.55,401.10" fill="#4a1a64"/><polygon points="161.90,412.50 159.75,408.50 164.05,408.50" fill="#4a1a64"/><polygon points="168.70,411.90 166.55,407.90 170.85,407.90" fill="#4a1a64"/>
<g stroke="#e5900f" stroke-width="1.1" fill="none"><rect x="185.80" y="346.30" width="22.00" height="62.70"/><line x1="185.80" y1="392.10" x2="207.80" y2="392.10"/><line x1="196.80" y1="302.40" x2="196.80" y2="346.30"/><line x1="196.80" y1="409.00" x2="196.80" y2="417.00"/></g><polygon points="196.80,300.05 199.15,302.40 196.80,304.75 194.45,302.40" fill="#e5900f"/><polygon points="196.80,307.85 199.15,310.20 196.80,312.55 194.45,310.20" fill="#e5900f"/><polygon points="196.80,327.35 199.15,329.70 196.80,332.05 194.45,329.70" fill="#e5900f"/><polygon points="196.80,358.55 199.15,360.90 196.80,363.25 194.45,360.90" fill="#e5900f"/><polygon points="203.60,385.45 205.95,387.80 203.60,390.15 201.25,387.80" fill="#e5900f"/><polygon points="190.40,389.35 192.75,391.70 190.40,394.05 188.05,391.70" fill="#e5900f"/><polygon points="196.80,389.35 199.15,391.70 196.80,394.05 194.45,391.70" fill="#e5900f"/><polygon points="203.60,389.35 205.95,391.70 203.60,394.05 201.25,391.70" fill="#e5900f"/><polygon points="196.80,400.05 199.15,402.40 196.80,404.75 194.45,402.40" fill="#e5900f"/><polygon points="196.80,405.35 199.15,407.70 196.80,410.05 194.45,407.70" fill="#e5900f"/><polygon points="196.80,410.25 199.15,412.60 196.80,414.95 194.45,412.60" fill="#e5900f"/><polygon points="192.50,415.05 194.85,417.40 192.50,419.75 190.15,417.40" fill="#e5900f"/><polygon points="201.10,415.05 203.45,417.40 201.10,419.75 198.75,417.40" fill="#e5900f"/>
<g stroke="#275f49" stroke-width="1.1" fill="none"><rect x="217.20" y="399.80" width="22.00" height="10.10"/><line x1="217.20" y1="407.50" x2="239.20" y2="407.50"/><line x1="228.20" y1="338.10" x2="228.20" y2="399.80"/><line x1="228.20" y1="409.90" x2="228.20" y2="416.80"/><line x1="222.50" y1="338.10" x2="233.90" y2="338.10"/><line x1="222.50" y1="416.80" x2="233.90" y2="416.80"/></g><circle cx="228.20" cy="338.10" r="2.6" fill="#275f49"/><circle cx="228.20" cy="398.20" r="2.6" fill="#275f49"/><circle cx="221.60" cy="400.10" r="2.6" fill="#275f49"/><circle cx="234.70" cy="399.70" r="2.6" fill="#275f49"/><circle cx="221.60" cy="407.30" r="2.6" fill="#275f49"/><circle cx="221.60" cy="411.90" r="2.6" fill="#275f49"/><circle cx="234.70" cy="406.70" r="2.6" fill="#275f49"/><circle cx="234.70" cy="410.90" r="2.6" fill="#275f49"/><circle cx="228.20" cy="410.30" r="2.6" fill="#275f49"/><circle cx="228.20" cy="416.80" r="2.6" fill="#275f49"/>
<text x="270.5" y="257.6" font-size="14" font-weight="bold" fill="#000" class="pl">D</text>
<line x1="312.40" y1="266.50" x2="312.40" y2="297.00" stroke="#111" stroke-width="1.3"/>
<line x1="309.10" y1="297.00" x2="315.70" y2="297.00" stroke="#111" stroke-width="1.2"/>
<line x1="312.40" y1="309.50" x2="312.40" y2="417.20" stroke="#111" stroke-width="1.3"/>
<line x1="309.10" y1="309.50" x2="315.70" y2="309.50" stroke="#111" stroke-width="1.2"/>
<line x1="309.20" y1="269.30" x2="312.40" y2="269.30" stroke="#111" stroke-width="1.2"/>
<text x="305.60" y="272.20" font-size="9.3" text-anchor="end" fill="#0a0a0a">3000</text>
<line x1="309.20" y1="292.40" x2="312.40" y2="292.40" stroke="#111" stroke-width="1.2"/>
<text x="305.60" y="295.30" font-size="9.3" text-anchor="end" fill="#0a0a0a">1000</text>
<line x1="309.20" y1="309.50" x2="312.40" y2="309.50" stroke="#111" stroke-width="1.2"/>
<text x="305.60" y="312.40" font-size="9.3" text-anchor="end" fill="#0a0a0a">600</text>
<line x1="309.20" y1="345.20" x2="312.40" y2="345.20" stroke="#111" stroke-width="1.2"/>
<text x="305.60" y="348.10" font-size="9.3" text-anchor="end" fill="#0a0a0a">400</text>
<line x1="309.20" y1="381.00" x2="312.40" y2="381.00" stroke="#111" stroke-width="1.2"/>
<text x="305.60" y="383.90" font-size="9.3" text-anchor="end" fill="#0a0a0a">200</text>
<line x1="309.20" y1="417.20" x2="312.40" y2="417.20" stroke="#111" stroke-width="1.2"/>
<text x="305.60" y="420.10" font-size="9.3" text-anchor="end" fill="#0a0a0a">0</text>
<line x1="311.80" y1="417.20" x2="510.00" y2="417.20" stroke="#111" stroke-width="1.3"/>
<line x1="332.20" y1="417.20" x2="332.20" y2="420.00" stroke="#111" stroke-width="1.1"/>
<line x1="363.80" y1="417.20" x2="363.80" y2="420.00" stroke="#111" stroke-width="1.1"/>
<line x1="395.20" y1="417.20" x2="395.20" y2="420.00" stroke="#111" stroke-width="1.1"/>
<line x1="426.50" y1="417.20" x2="426.50" y2="420.00" stroke="#111" stroke-width="1.1"/>
<line x1="457.60" y1="417.20" x2="457.60" y2="420.00" stroke="#111" stroke-width="1.1"/>
<line x1="488.70" y1="417.20" x2="488.70" y2="420.00" stroke="#111" stroke-width="1.1"/>
<text transform="translate(278.59,343.10) rotate(-90)" x="0" y="0" font-size="10.6" text-anchor="middle" textLength="67.5" lengthAdjust="spacingAndGlyphs" fill="#0a0a0a">Plasma LDH (IU/L)</text>
<text x="332.40" y="431.2" font-size="9.0" font-style="italic" text-anchor="middle" fill="#0a0a0a">cfh<tspan dy="-4.3" font-size="6.0">W/W</tspan></text>
<text x="364.00" y="431.2" font-size="9.0" font-style="italic" text-anchor="middle" fill="#0a0a0a">cfh<tspan dy="-4.3" font-size="6.0">W/R</tspan></text>
<text x="395.40" y="431.2" font-size="9.0" font-style="italic" text-anchor="middle" fill="#0a0a0a">cfh<tspan dy="-4.3" font-size="6.0">R/R</tspan></text>
<text x="426.70" y="431.2" font-size="9.0" font-style="italic" text-anchor="middle" fill="#0a0a0a">cfh<tspan dy="-4.3" font-size="6.0">W/W</tspan></text>
<text x="457.80" y="431.2" font-size="9.0" font-style="italic" text-anchor="middle" fill="#0a0a0a">cfh<tspan dy="-4.3" font-size="6.0">W/R</tspan></text>
<text x="488.90" y="431.2" font-size="9.0" font-style="italic" text-anchor="middle" fill="#0a0a0a">cfh<tspan dy="-4.3" font-size="6.0">R/R</tspan></text>
<line x1="332.20" y1="439.50" x2="395.20" y2="439.50" stroke="#111" stroke-width="1.15"/>
<line x1="332.60" y1="439.90" x2="332.00" y2="437.70" stroke="#2a2a2a" stroke-width="1.0"/>
<line x1="394.80" y1="439.90" x2="395.40" y2="437.70" stroke="#2a2a2a" stroke-width="1.0"/>
<line x1="426.50" y1="439.50" x2="488.70" y2="439.50" stroke="#111" stroke-width="1.15"/>
<line x1="426.90" y1="439.90" x2="426.30" y2="437.70" stroke="#2a2a2a" stroke-width="1.0"/>
<line x1="488.30" y1="439.90" x2="488.90" y2="437.70" stroke="#2a2a2a" stroke-width="1.0"/>
<text x="338.50" y="450.0" font-size="9.1" font-style="italic" fill="#0a0a0a">Adamts13<tspan dy="-4.2" font-size="6">+/+</tspan></text>
<text x="434.00" y="450.0" font-size="9.1" font-style="italic" fill="#0a0a0a">Adamts13<tspan dy="-4.2" font-size="6">-/-</tspan></text>
<text x="301.2" y="465.0" font-size="8.6" textLength="10.5" lengthAdjust="spacingAndGlyphs" fill="#0a0a0a">n=</text>
<text x="332.20" y="465.0" font-size="8.8" text-anchor="middle" fill="#0a0a0a">15</text>
<text x="363.80" y="465.0" font-size="8.8" text-anchor="middle" fill="#0a0a0a">7</text>
<text x="395.20" y="465.0" font-size="8.8" text-anchor="middle" fill="#0a0a0a">8</text>
<text x="426.50" y="465.0" font-size="8.8" text-anchor="middle" fill="#0a0a0a">17</text>
<text x="457.60" y="465.0" font-size="8.8" text-anchor="middle" fill="#0a0a0a">14</text>
<text x="488.70" y="465.0" font-size="8.8" text-anchor="middle" fill="#0a0a0a">9</text>
<line x1="348.00" y1="456.10" x2="348.00" y2="468.50" stroke="#111" stroke-width="1.2"/>
<line x1="379.50" y1="456.10" x2="379.50" y2="468.50" stroke="#111" stroke-width="1.2"/>
<line x1="410.85" y1="456.10" x2="410.85" y2="468.50" stroke="#111" stroke-width="1.2"/>
<line x1="442.05" y1="456.10" x2="442.05" y2="468.50" stroke="#111" stroke-width="1.2"/>
<line x1="473.15" y1="456.10" x2="473.15" y2="468.50" stroke="#111" stroke-width="1.2"/>
<line x1="425.50" y1="278.00" x2="487.80" y2="278.00" stroke="#404040" stroke-width="1.4"/>
<polygon points="456.70,271.70 457.26,273.03 458.70,273.15 457.60,274.09 457.93,275.50 456.70,274.75 455.47,275.50 455.80,274.09 454.70,273.15 456.14,273.03" fill="#1a1a1a"/>
<line x1="334.50" y1="333.70" x2="457.70" y2="333.70" stroke="#404040" stroke-width="1.4"/>
<polygon points="395.40,327.40 395.96,328.73 397.40,328.85 396.30,329.79 396.63,331.20 395.40,330.45 394.17,331.20 394.50,329.79 393.40,328.85 394.84,328.73" fill="#1a1a1a"/>
<line x1="330.40" y1="351.70" x2="394.40" y2="351.70" stroke="#404040" stroke-width="1.4"/>
<polygon points="362.20,345.40 362.76,346.73 364.20,346.85 363.10,347.79 363.43,349.20 362.20,348.45 360.97,349.20 361.30,347.79 360.20,346.85 361.64,346.73" fill="#1a1a1a"/>
<g stroke="#22407f" stroke-width="1.1" fill="none"><rect x="321.20" y="382.10" width="22.00" height="16.40"/><line x1="321.20" y1="389.40" x2="343.20" y2="389.40"/><line x1="332.20" y1="361.60" x2="332.20" y2="382.10"/><line x1="332.20" y1="398.50" x2="332.20" y2="403.00"/><line x1="326.50" y1="361.60" x2="337.90" y2="361.60"/><line x1="326.50" y1="403.00" x2="337.90" y2="403.00"/></g><circle cx="332.20" cy="361.60" r="2.15" fill="#22407f"/><circle cx="332.20" cy="372.00" r="2.15" fill="#22407f"/><circle cx="329.60" cy="378.70" r="2.15" fill="#22407f"/><circle cx="336.20" cy="381.40" r="2.15" fill="#22407f"/><circle cx="329.20" cy="384.20" r="2.15" fill="#22407f"/><circle cx="326.50" cy="389.80" r="2.15" fill="#22407f"/><circle cx="333.10" cy="387.70" r="2.15" fill="#22407f"/><circle cx="339.30" cy="389.10" r="2.15" fill="#22407f"/><circle cx="323.30" cy="396.80" r="2.15" fill="#22407f"/><circle cx="337.20" cy="395.40" r="2.15" fill="#22407f"/><circle cx="328.50" cy="399.20" r="2.15" fill="#22407f"/><circle cx="332.40" cy="398.50" r="2.15" fill="#22407f"/><circle cx="337.20" cy="400.20" r="2.15" fill="#22407f"/><circle cx="341.40" cy="399.00" r="2.15" fill="#22407f"/><circle cx="328.50" cy="403.00" r="2.15" fill="#22407f"/>
<g stroke="#a6072f" stroke-width="1.1" fill="none"><rect x="352.80" y="388.00" width="22.00" height="3.70"/><line x1="352.80" y1="391.40" x2="374.80" y2="391.40"/><line x1="363.80" y1="383.90" x2="363.80" y2="388.00"/><line x1="363.80" y1="391.70" x2="363.80" y2="396.50"/><line x1="358.10" y1="383.90" x2="369.50" y2="383.90"/><line x1="358.10" y1="396.50" x2="369.50" y2="396.50"/></g><rect x="355.00" y="381.50" width="4.4" height="4.4" fill="#a6072f"/><rect x="355.00" y="383.20" width="4.4" height="4.4" fill="#a6072f"/><rect x="368.60" y="383.50" width="4.4" height="4.4" fill="#a6072f"/><rect x="368.60" y="385.20" width="4.4" height="4.4" fill="#a6072f"/><rect x="361.60" y="386.60" width="4.4" height="4.4" fill="#a6072f"/><rect x="355.00" y="389.50" width="4.4" height="4.4" fill="#a6072f"/><rect x="361.60" y="394.20" width="4.4" height="4.4" fill="#a6072f"/>
<g stroke="#62ad36" stroke-width="1.1" fill="none"><rect x="384.20" y="366.30" width="22.00" height="20.30"/><line x1="384.20" y1="378.50" x2="406.20" y2="378.50"/><line x1="395.20" y1="358.10" x2="395.20" y2="366.30"/><line x1="395.20" y1="386.60" x2="395.20" y2="390.00"/><line x1="389.50" y1="358.10" x2="400.90" y2="358.10"/><line x1="389.50" y1="390.00" x2="400.90" y2="390.00"/></g><polygon points="395.20,355.60 393.00,359.90 397.40,359.90" fill="#62ad36"/><polygon points="395.20,361.60 393.00,365.90 397.40,365.90" fill="#62ad36"/><polygon points="395.20,367.50 393.00,371.80 397.40,371.80" fill="#62ad36"/><polygon points="395.20,372.50 393.00,376.80 397.40,376.80" fill="#62ad36"/><polygon points="391.80,380.70 389.60,385.00 394.00,385.00" fill="#62ad36"/><polygon points="398.40,379.70 396.20,384.00 400.60,384.00" fill="#62ad36"/><polygon points="391.80,387.60 389.60,391.90 394.00,391.90" fill="#62ad36"/><polygon points="398.40,386.60 396.20,390.90 400.60,390.90" fill="#62ad36"/>
<g stroke="#4a1a64" stroke-width="1.1" fill="none"><rect x="415.50" y="367.50" width="22.00" height="24.00"/><line x1="415.50" y1="383.10" x2="437.50" y2="383.10"/><line x1="426.50" y1="344.60" x2="426.50" y2="367.50"/><line x1="426.50" y1="391.50" x2="426.50" y2="401.90"/><line x1="420.80" y1="344.60" x2="432.20" y2="344.60"/><line x1="420.80" y1="401.90" x2="432.20" y2="401.90"/></g><polygon points="422.70,348.20 420.55,344.20 424.85,344.20" fill="#4a1a64"/><polygon points="429.80,346.70 427.65,342.70 431.95,342.70" fill="#4a1a64"/><polygon points="423.00,364.60 420.85,360.60 425.15,360.60" fill="#4a1a64"/><polygon points="429.80,367.30 427.65,363.30 431.95,363.30" fill="#4a1a64"/><polygon points="423.00,370.10 420.85,366.10 425.15,366.10" fill="#4a1a64"/><polygon points="426.50,374.30 424.35,370.30 428.65,370.30" fill="#4a1a64"/><polygon points="426.50,377.90 424.35,373.90 428.65,373.90" fill="#4a1a64"/><polygon points="419.90,384.70 417.75,380.70 422.05,380.70" fill="#4a1a64"/><polygon points="432.70,383.10 430.55,379.10 434.85,379.10" fill="#4a1a64"/><polygon points="432.70,387.50 430.55,383.50 434.85,383.50" fill="#4a1a64"/><polygon points="419.90,390.20 417.75,386.20 422.05,386.20" fill="#4a1a64"/><polygon points="419.90,394.40 417.75,390.40 422.05,390.40" fill="#4a1a64"/><polygon points="426.50,393.00 424.35,389.00 428.65,389.00" fill="#4a1a64"/><polygon points="432.70,393.60 430.55,389.60 434.85,389.60" fill="#4a1a64"/><polygon points="423.00,398.30 420.85,394.30 425.15,394.30" fill="#4a1a64"/><polygon points="429.80,398.30 427.65,394.30 431.95,394.30" fill="#4a1a64"/><polygon points="426.50,404.20 424.35,400.20 428.65,400.20" fill="#4a1a64"/>
<g stroke="#e5900f" stroke-width="1.1" fill="none"><rect x="446.60" y="359.60" width="22.00" height="31.00"/><line x1="446.60" y1="376.40" x2="468.60" y2="376.40"/><line x1="457.60" y1="339.70" x2="457.60" y2="359.60"/><line x1="457.60" y1="390.60" x2="457.60" y2="402.10"/><line x1="451.90" y1="339.70" x2="463.30" y2="339.70"/><line x1="451.90" y1="402.10" x2="463.30" y2="402.10"/></g><polygon points="457.60,337.35 459.95,339.70 457.60,342.05 455.25,339.70" fill="#e5900f"/><polygon points="457.60,349.15 459.95,351.50 457.60,353.85 455.25,351.50" fill="#e5900f"/><polygon points="454.10,356.25 456.45,358.60 454.10,360.95 451.75,358.60" fill="#e5900f"/><polygon points="460.90,355.15 463.25,357.50 460.90,359.85 458.55,357.50" fill="#e5900f"/><polygon points="454.10,363.15 456.45,365.50 454.10,367.85 451.75,365.50" fill="#e5900f"/><polygon points="460.90,361.25 463.25,363.60 460.90,365.95 458.55,363.60" fill="#e5900f"/><polygon points="457.60,369.25 459.95,371.60 457.60,373.95 455.25,371.60" fill="#e5900f"/><polygon points="457.60,378.15 459.95,380.50 457.60,382.85 455.25,380.50" fill="#e5900f"/><polygon points="463.90,385.65 466.25,388.00 463.90,390.35 461.55,388.00" fill="#e5900f"/><polygon points="463.90,390.25 466.25,392.60 463.90,394.95 461.55,392.60" fill="#e5900f"/><polygon points="457.60,388.25 459.95,390.60 457.60,392.95 455.25,390.60" fill="#e5900f"/><polygon points="450.90,390.55 453.25,392.90 450.90,395.25 448.55,392.90" fill="#e5900f"/><polygon points="457.60,393.85 459.95,396.20 457.60,398.55 455.25,396.20" fill="#e5900f"/><polygon points="457.60,399.75 459.95,402.10 457.60,404.45 455.25,402.10" fill="#e5900f"/>
<g stroke="#275f49" stroke-width="1.1" fill="none"><line x1="477.70" y1="296.30" x2="499.70" y2="296.30"/><line x1="477.70" y1="374.10" x2="499.70" y2="374.10"/><line x1="477.70" y1="296.30" x2="477.70" y2="297.00"/><line x1="499.70" y1="296.30" x2="499.70" y2="297.00"/><line x1="477.70" y1="309.80" x2="477.70" y2="374.10"/><line x1="499.70" y1="309.80" x2="499.70" y2="374.10"/><line x1="477.70" y1="365.30" x2="499.70" y2="365.30"/><line x1="488.70" y1="284.60" x2="488.70" y2="296.30"/><line x1="488.70" y1="374.10" x2="488.70" y2="389.80"/><line x1="483.00" y1="284.60" x2="494.40" y2="284.60"/><line x1="483.00" y1="389.80" x2="494.40" y2="389.80"/></g><circle cx="488.70" cy="284.60" r="2.6" fill="#275f49"/><circle cx="488.70" cy="293.00" r="2.6" fill="#275f49"/><circle cx="488.70" cy="356.30" r="2.6" fill="#275f49"/><circle cx="492.20" cy="362.80" r="2.6" fill="#275f49"/><circle cx="485.60" cy="365.30" r="2.6" fill="#275f49"/><circle cx="492.20" cy="370.70" r="2.6" fill="#275f49"/><circle cx="485.60" cy="373.20" r="2.6" fill="#275f49"/><circle cx="488.70" cy="376.60" r="2.6" fill="#275f49"/><circle cx="488.70" cy="389.80" r="2.6" fill="#275f49"/>
<text x="9.0" y="496.5" font-size="14" font-weight="bold" fill="#000" class="pl">E</text>
<line x1="50.30" y1="505.90" x2="50.30" y2="555.20" stroke="#111" stroke-width="1.3"/>
<line x1="47.00" y1="555.20" x2="53.60" y2="555.20" stroke="#111" stroke-width="1.2"/>
<line x1="50.30" y1="564.60" x2="50.30" y2="659.30" stroke="#111" stroke-width="1.3"/>
<line x1="47.00" y1="564.60" x2="53.60" y2="564.60" stroke="#111" stroke-width="1.2"/>
<line x1="47.10" y1="508.10" x2="50.30" y2="508.10" stroke="#111" stroke-width="1.2"/>
<text x="43.50" y="511.00" font-size="9.3" text-anchor="end" fill="#0a0a0a">3000</text>
<line x1="47.10" y1="531.80" x2="50.30" y2="531.80" stroke="#111" stroke-width="1.2"/>
<text x="43.50" y="534.70" font-size="9.3" text-anchor="end" fill="#0a0a0a">2000</text>
<line x1="47.10" y1="555.20" x2="50.30" y2="555.20" stroke="#111" stroke-width="1.2"/>
<text x="43.50" y="558.10" font-size="9.3" text-anchor="end" fill="#0a0a0a">1000</text>
<line x1="47.10" y1="573.60" x2="50.30" y2="573.60" stroke="#111" stroke-width="1.2"/>
<text x="43.50" y="576.50" font-size="9.3" text-anchor="end" fill="#0a0a0a">900</text>
<line x1="47.10" y1="602.00" x2="50.30" y2="602.00" stroke="#111" stroke-width="1.2"/>
<text x="43.50" y="604.90" font-size="9.3" text-anchor="end" fill="#0a0a0a">600</text>
<line x1="47.10" y1="630.40" x2="50.30" y2="630.40" stroke="#111" stroke-width="1.2"/>
<text x="43.50" y="633.30" font-size="9.3" text-anchor="end" fill="#0a0a0a">300</text>
<line x1="47.10" y1="659.30" x2="50.30" y2="659.30" stroke="#111" stroke-width="1.2"/>
<text x="43.50" y="662.20" font-size="9.3" text-anchor="end" fill="#0a0a0a">0</text>
<line x1="49.70" y1="659.30" x2="233.00" y2="659.30" stroke="#111" stroke-width="1.3"/>
<line x1="65.80" y1="659.30" x2="65.80" y2="662.10" stroke="#111" stroke-width="1.1"/>
<line x1="96.30" y1="659.30" x2="96.30" y2="662.10" stroke="#111" stroke-width="1.1"/>
<line x1="126.80" y1="659.30" x2="126.80" y2="662.10" stroke="#111" stroke-width="1.1"/>
<line x1="157.30" y1="659.30" x2="157.30" y2="662.10" stroke="#111" stroke-width="1.1"/>
<line x1="187.80" y1="659.30" x2="187.80" y2="662.10" stroke="#111" stroke-width="1.1"/>
<line x1="218.30" y1="659.30" x2="218.30" y2="662.10" stroke="#111" stroke-width="1.1"/>
<text transform="translate(16.87,583.90) rotate(-90)" x="0" y="0" font-size="10.3" text-anchor="middle" textLength="84.2" lengthAdjust="spacingAndGlyphs" fill="#0a0a0a">Plasma C5b-9 (ng/mL)</text>
<text x="66.00" y="672.5" font-size="9.0" font-style="italic" text-anchor="middle" fill="#0a0a0a">cfh<tspan dy="-4.3" font-size="6.0">W/W</tspan></text>
<text x="96.50" y="672.5" font-size="9.0" font-style="italic" text-anchor="middle" fill="#0a0a0a">cfh<tspan dy="-4.3" font-size="6.0">W/R</tspan></text>
<text x="127.00" y="672.5" font-size="9.0" font-style="italic" text-anchor="middle" fill="#0a0a0a">cfh<tspan dy="-4.3" font-size="6.0">R/R</tspan></text>
<text x="157.50" y="672.5" font-size="9.0" font-style="italic" text-anchor="middle" fill="#0a0a0a">cfh<tspan dy="-4.3" font-size="6.0">W/W</tspan></text>
<text x="188.00" y="672.5" font-size="9.0" font-style="italic" text-anchor="middle" fill="#0a0a0a">cfh<tspan dy="-4.3" font-size="6.0">W/R</tspan></text>
<text x="218.50" y="672.5" font-size="9.0" font-style="italic" text-anchor="middle" fill="#0a0a0a">cfh<tspan dy="-4.3" font-size="6.0">R/R</tspan></text>
<line x1="65.80" y1="681.50" x2="126.80" y2="681.50" stroke="#111" stroke-width="1.15"/>
<line x1="66.20" y1="681.90" x2="65.60" y2="679.70" stroke="#2a2a2a" stroke-width="1.0"/>
<line x1="126.40" y1="681.90" x2="127.00" y2="679.70" stroke="#2a2a2a" stroke-width="1.0"/>
<line x1="157.30" y1="681.50" x2="218.30" y2="681.50" stroke="#111" stroke-width="1.15"/>
<line x1="157.70" y1="681.90" x2="157.10" y2="679.70" stroke="#2a2a2a" stroke-width="1.0"/>
<line x1="217.90" y1="681.90" x2="218.50" y2="679.70" stroke="#2a2a2a" stroke-width="1.0"/>
<text x="71.10" y="692.2" font-size="9.1" font-style="italic" fill="#0a0a0a">Adamts13<tspan dy="-4.2" font-size="6">+/+</tspan></text>
<text x="164.70" y="692.2" font-size="9.1" font-style="italic" fill="#0a0a0a">Adamts13<tspan dy="-4.2" font-size="6">-/-</tspan></text>
<text x="39.5" y="707.2" font-size="8.6" textLength="10.5" lengthAdjust="spacingAndGlyphs" fill="#0a0a0a">n=</text>
<text x="65.80" y="707.2" font-size="8.8" text-anchor="middle" fill="#0a0a0a">11</text>
<text x="96.30" y="707.2" font-size="8.8" text-anchor="middle" fill="#0a0a0a">8</text>
<text x="126.80" y="707.2" font-size="8.8" text-anchor="middle" fill="#0a0a0a">8</text>
<text x="157.30" y="707.2" font-size="8.8" text-anchor="middle" fill="#0a0a0a">12</text>
<text x="187.80" y="707.2" font-size="8.8" text-anchor="middle" fill="#0a0a0a">14</text>
<text x="218.30" y="707.2" font-size="8.8" text-anchor="middle" fill="#0a0a0a">9</text>
<line x1="81.05" y1="698.30" x2="81.05" y2="710.70" stroke="#111" stroke-width="1.2"/>
<line x1="111.55" y1="698.30" x2="111.55" y2="710.70" stroke="#111" stroke-width="1.2"/>
<line x1="142.05" y1="698.30" x2="142.05" y2="710.70" stroke="#111" stroke-width="1.2"/>
<line x1="172.55" y1="698.30" x2="172.55" y2="710.70" stroke="#111" stroke-width="1.2"/>
<line x1="203.05" y1="698.30" x2="203.05" y2="710.70" stroke="#111" stroke-width="1.2"/>
<line x1="153.80" y1="536.50" x2="216.80" y2="536.50" stroke="#404040" stroke-width="1.4"/>
<polygon points="183.25,530.20 183.81,531.53 185.25,531.65 184.15,532.59 184.48,534.00 183.25,533.25 182.02,534.00 182.35,532.59 181.25,531.65 182.69,531.53" fill="#1a1a1a"/><polygon points="186.75,530.20 187.31,531.53 188.75,531.65 187.65,532.59 187.98,534.00 186.75,533.25 185.52,534.00 185.85,532.59 184.75,531.65 186.19,531.53" fill="#1a1a1a"/>
<line x1="153.80" y1="550.60" x2="185.00" y2="550.60" stroke="#404040" stroke-width="1.4"/>
<polygon points="169.40,544.30 169.96,545.63 171.40,545.75 170.30,546.69 170.63,548.10 169.40,547.35 168.17,548.10 168.50,546.69 167.40,545.75 168.84,545.63" fill="#1a1a1a"/>
<line x1="58.70" y1="561.00" x2="126.80" y2="561.00" stroke="#404040" stroke-width="1.4"/>
<polygon points="91.55,554.70 92.11,556.03 93.55,556.15 92.45,557.09 92.78,558.50 91.55,557.75 90.32,558.50 90.65,557.09 89.55,556.15 90.99,556.03" fill="#1a1a1a"/><polygon points="95.05,554.70 95.61,556.03 97.05,556.15 95.95,557.09 96.28,558.50 95.05,557.75 93.82,558.50 94.15,557.09 93.05,556.15 94.49,556.03" fill="#1a1a1a"/>
<line x1="95.00" y1="579.70" x2="126.80" y2="579.70" stroke="#404040" stroke-width="1.4"/>
<polygon points="109.90,573.40 110.46,574.73 111.90,574.85 110.80,575.79 111.13,577.20 109.90,576.45 108.67,577.20 109.00,575.79 107.90,574.85 109.34,574.73" fill="#1a1a1a"/>
<g stroke="#22407f" stroke-width="1.1" fill="none"><rect x="54.80" y="615.30" width="22.00" height="5.80"/><line x1="54.80" y1="617.60" x2="76.80" y2="617.60"/><line x1="65.80" y1="606.40" x2="65.80" y2="615.30"/><line x1="65.80" y1="621.10" x2="65.80" y2="628.00"/><line x1="60.10" y1="606.40" x2="71.50" y2="606.40"/><line x1="60.10" y1="628.00" x2="71.50" y2="628.00"/></g><circle cx="65.80" cy="606.40" r="2.15" fill="#22407f"/><circle cx="61.20" cy="610.70" r="2.15" fill="#22407f"/><circle cx="69.30" cy="613.90" r="2.15" fill="#22407f"/><circle cx="73.90" cy="613.30" r="2.15" fill="#22407f"/><circle cx="56.00" cy="616.50" r="2.15" fill="#22407f"/><circle cx="65.80" cy="617.00" r="2.15" fill="#22407f"/><circle cx="73.90" cy="617.00" r="2.15" fill="#22407f"/><circle cx="73.90" cy="619.40" r="2.15" fill="#22407f"/><circle cx="65.80" cy="622.20" r="2.15" fill="#22407f"/><circle cx="61.50" cy="628.30" r="2.15" fill="#22407f"/><circle cx="69.30" cy="627.70" r="2.15" fill="#22407f"/>
<g stroke="#a6072f" stroke-width="1.1" fill="none"><rect x="85.30" y="615.20" width="22.00" height="8.10"/><line x1="85.30" y1="618.70" x2="107.30" y2="618.70"/><line x1="96.30" y1="604.10" x2="96.30" y2="615.20"/><line x1="96.30" y1="623.30" x2="96.30" y2="625.60"/><line x1="90.60" y1="604.10" x2="102.00" y2="604.10"/><line x1="90.60" y1="625.60" x2="102.00" y2="625.60"/></g><rect x="94.10" y="601.70" width="4.4" height="4.4" fill="#a6072f"/><rect x="85.80" y="610.70" width="4.4" height="4.4" fill="#a6072f"/><rect x="94.10" y="610.70" width="4.4" height="4.4" fill="#a6072f"/><rect x="102.80" y="610.70" width="4.4" height="4.4" fill="#a6072f"/><rect x="97.90" y="615.00" width="4.4" height="4.4" fill="#a6072f"/><rect x="90.10" y="619.10" width="4.4" height="4.4" fill="#a6072f"/><rect x="90.10" y="623.40" width="4.4" height="4.4" fill="#a6072f"/><rect x="97.90" y="623.40" width="4.4" height="4.4" fill="#a6072f"/>
<g stroke="#62ad36" stroke-width="1.1" fill="none"><rect x="115.80" y="597.90" width="22.00" height="14.20"/><line x1="115.80" y1="608.60" x2="137.80" y2="608.60"/><line x1="126.80" y1="577.90" x2="126.80" y2="597.90"/><line x1="126.80" y1="612.10" x2="126.80" y2="615.80"/><line x1="121.10" y1="577.90" x2="132.50" y2="577.90"/><line x1="121.10" y1="615.80" x2="132.50" y2="615.80"/></g><polygon points="126.80,575.20 124.60,579.50 129.00,579.50" fill="#62ad36"/><polygon points="126.80,592.70 124.60,597.00 129.00,597.00" fill="#62ad36"/><polygon points="118.00,605.80 115.80,610.10 120.20,610.10" fill="#62ad36"/><polygon points="126.80,604.10 124.60,608.40 129.00,608.40" fill="#62ad36"/><polygon points="134.90,605.80 132.70,610.10 137.10,610.10" fill="#62ad36"/><polygon points="126.80,608.50 124.60,612.80 129.00,612.80" fill="#62ad36"/><polygon points="118.00,613.40 115.80,617.70 120.20,617.70" fill="#62ad36"/><polygon points="134.90,612.30 132.70,616.60 137.10,616.60" fill="#62ad36"/>
<g stroke="#4a1a64" stroke-width="1.1" fill="none"><rect x="146.30" y="615.50" width="22.00" height="9.70"/><line x1="146.30" y1="620.50" x2="168.30" y2="620.50"/><line x1="157.30" y1="595.80" x2="157.30" y2="615.50"/><line x1="157.30" y1="625.20" x2="157.30" y2="630.90"/><line x1="151.60" y1="595.80" x2="163.00" y2="595.80"/><line x1="151.60" y1="630.90" x2="163.00" y2="630.90"/></g><polygon points="157.30,597.40 155.15,593.40 159.45,593.40" fill="#4a1a64"/><polygon points="157.30,604.70 155.15,600.70 159.45,600.70" fill="#4a1a64"/><polygon points="149.30,615.50 147.15,611.50 151.45,611.50" fill="#4a1a64"/><polygon points="157.30,616.20 155.15,612.20 159.45,612.20" fill="#4a1a64"/><polygon points="149.30,620.00 147.15,616.00 151.45,616.00" fill="#4a1a64"/><polygon points="165.50,618.30 163.35,614.30 167.65,614.30" fill="#4a1a64"/><polygon points="154.30,624.90 152.15,620.90 156.45,620.90" fill="#4a1a64"/><polygon points="165.50,624.90 163.35,620.90 167.65,620.90" fill="#4a1a64"/><polygon points="149.30,629.10 147.15,625.10 151.45,625.10" fill="#4a1a64"/><polygon points="159.90,627.30 157.75,623.30 162.05,623.30" fill="#4a1a64"/><polygon points="154.30,632.90 152.15,628.90 156.45,628.90" fill="#4a1a64"/><polygon points="160.20,631.80 158.05,627.80 162.35,627.80" fill="#4a1a64"/>
<g stroke="#e5900f" stroke-width="1.1" fill="none"><rect x="176.80" y="608.30" width="22.00" height="5.90"/><line x1="176.80" y1="612.30" x2="198.80" y2="612.30"/><line x1="187.80" y1="544.50" x2="187.80" y2="555.50"/><line x1="187.80" y1="564.70" x2="187.80" y2="608.30"/><line x1="187.80" y1="614.20" x2="187.80" y2="626.00"/><line x1="182.10" y1="544.50" x2="193.50" y2="544.50"/><line x1="182.10" y1="626.00" x2="193.50" y2="626.00"/></g><polygon points="192.10,542.15 194.45,544.50 192.10,546.85 189.75,544.50" fill="#e5900f"/><polygon points="184.10,545.85 186.45,548.20 184.10,550.55 181.75,548.20" fill="#e5900f"/><polygon points="187.80,601.05 190.15,603.40 187.80,605.75 185.45,603.40" fill="#e5900f"/><polygon points="179.00,608.35 181.35,610.70 179.00,613.05 176.65,610.70" fill="#e5900f"/><polygon points="184.70,608.35 187.05,610.70 184.70,613.05 182.35,610.70" fill="#e5900f"/><polygon points="190.30,606.45 192.65,608.80 190.30,611.15 187.95,608.80" fill="#e5900f"/><polygon points="196.00,607.25 198.35,609.60 196.00,611.95 193.65,609.60" fill="#e5900f"/><polygon points="179.00,613.65 181.35,616.00 179.00,618.35 176.65,616.00" fill="#e5900f"/><polygon points="184.70,612.85 187.05,615.20 184.70,617.55 182.35,615.20" fill="#e5900f"/><polygon points="190.60,613.45 192.95,615.80 190.60,618.15 188.25,615.80" fill="#e5900f"/><polygon points="190.60,616.15 192.95,618.50 190.60,620.85 188.25,618.50" fill="#e5900f"/><polygon points="196.00,613.95 198.35,616.30 196.00,618.65 193.65,616.30" fill="#e5900f"/><polygon points="184.70,618.25 187.05,620.60 184.70,622.95 182.35,620.60" fill="#e5900f"/><polygon points="187.80,623.65 190.15,626.00 187.80,628.35 185.45,626.00" fill="#e5900f"/>
<g stroke="#275f49" stroke-width="1.1" fill="none"><line x1="207.30" y1="549.90" x2="229.30" y2="549.90"/><line x1="207.30" y1="611.20" x2="229.30" y2="611.20"/><line x1="207.30" y1="549.90" x2="207.30" y2="555.00"/><line x1="229.30" y1="549.90" x2="229.30" y2="555.00"/><line x1="207.30" y1="564.50" x2="207.30" y2="611.20"/><line x1="229.30" y1="564.50" x2="229.30" y2="611.20"/><line x1="207.30" y1="598.50" x2="229.30" y2="598.50"/><line x1="218.30" y1="528.30" x2="218.30" y2="549.90"/><line x1="218.30" y1="611.20" x2="218.30" y2="616.50"/><line x1="212.60" y1="528.30" x2="224.00" y2="528.30"/><line x1="212.60" y1="616.50" x2="224.00" y2="616.50"/></g><circle cx="218.30" cy="528.30" r="2.6" fill="#275f49"/><circle cx="214.70" cy="549.90" r="2.6" fill="#275f49"/><circle cx="222.20" cy="548.50" r="2.6" fill="#275f49"/><circle cx="218.30" cy="564.50" r="2.6" fill="#275f49"/><circle cx="218.30" cy="598.10" r="2.6" fill="#275f49"/><circle cx="214.70" cy="608.30" r="2.6" fill="#275f49"/><circle cx="222.20" cy="608.30" r="2.6" fill="#275f49"/><circle cx="214.70" cy="616.80" r="2.6" fill="#275f49"/><circle cx="222.20" cy="615.60" r="2.6" fill="#275f49"/>
<text x="270.6" y="496.9" font-size="14" font-weight="bold" fill="#000" class="pl">F</text>
<line x1="312.10" y1="513.80" x2="312.10" y2="659.20" stroke="#111" stroke-width="1.3"/>
<line x1="311.50" y1="659.10" x2="505.30" y2="659.10" stroke="#111" stroke-width="1.3"/>
<line x1="308.90" y1="658.90" x2="312.10" y2="658.90" stroke="#111" stroke-width="1.2"/>
<text x="305.40" y="661.80" font-size="9.3" text-anchor="end" fill="#0a0a0a">0</text>
<line x1="308.90" y1="623.35" x2="312.10" y2="623.35" stroke="#111" stroke-width="1.2"/>
<text x="305.40" y="626.25" font-size="9.3" text-anchor="end" fill="#0a0a0a">20</text>
<line x1="308.90" y1="587.80" x2="312.10" y2="587.80" stroke="#111" stroke-width="1.2"/>
<text x="305.40" y="590.70" font-size="9.3" text-anchor="end" fill="#0a0a0a">40</text>
<line x1="308.90" y1="552.25" x2="312.10" y2="552.25" stroke="#111" stroke-width="1.2"/>
<text x="305.40" y="555.15" font-size="9.3" text-anchor="end" fill="#0a0a0a">60</text>
<line x1="308.90" y1="516.70" x2="312.10" y2="516.70" stroke="#111" stroke-width="1.2"/>
<text x="305.40" y="519.60" font-size="9.3" text-anchor="end" fill="#0a0a0a">80</text>
<line x1="324.60" y1="659.10" x2="324.60" y2="662.00" stroke="#111" stroke-width="1.1"/>
<text x="324.60" y="673.5" font-size="9.3" text-anchor="middle" fill="#0a0a0a">200</text>
<line x1="360.10" y1="659.10" x2="360.10" y2="662.00" stroke="#111" stroke-width="1.1"/>
<text x="360.10" y="673.5" font-size="9.3" text-anchor="middle" fill="#0a0a0a">400</text>
<line x1="395.60" y1="659.10" x2="395.60" y2="662.00" stroke="#111" stroke-width="1.1"/>
<text x="395.60" y="673.5" font-size="9.3" text-anchor="middle" fill="#0a0a0a">600</text>
<line x1="431.10" y1="659.10" x2="431.10" y2="662.00" stroke="#111" stroke-width="1.1"/>
<text x="431.10" y="673.5" font-size="9.3" text-anchor="middle" fill="#0a0a0a">800</text>
<line x1="466.60" y1="659.10" x2="466.60" y2="662.00" stroke="#111" stroke-width="1.1"/>
<text x="466.60" y="673.5" font-size="9.3" text-anchor="middle" fill="#0a0a0a">1000</text>
<line x1="502.10" y1="659.10" x2="502.10" y2="662.00" stroke="#111" stroke-width="1.1"/>
<text x="502.10" y="673.5" font-size="9.3" text-anchor="middle" fill="#0a0a0a">1200</text>
<text transform="translate(288.97,587.80) rotate(-90)" x="0" y="0" font-size="10.3" text-anchor="middle" textLength="78.4" lengthAdjust="spacingAndGlyphs" fill="#0a0a0a">Plasma BUN (mg/dL)</text>
<text x="363.1" y="688.7" font-size="10.2" fill="#0a0a0a" textLength="87.7" lengthAdjust="spacingAndGlyphs">Platelet counts (x10<tspan dy="-3.0" font-size="8.6">9</tspan><tspan dy="3.0">/L)</tspan></text>
<text x="463.6" y="528.7" font-size="9.0" textLength="30.8" lengthAdjust="spacingAndGlyphs" fill="#0a0a0a">r= -0.51</text>
<text x="463.6" y="541.4" font-size="9.0" fill="#0a0a0a" textLength="30.8" lengthAdjust="spacingAndGlyphs"><tspan font-style="italic">p</tspan>= 0.01</text>
<polyline points="329.10,577.92 332.79,579.01 336.48,580.10 340.16,581.19 343.85,582.27 347.54,583.35 351.23,584.42 354.91,585.49 358.60,586.56 362.29,587.62 365.98,588.67 369.66,589.71 373.35,590.74 377.04,591.77 380.73,592.78 384.41,593.78 388.10,594.76 391.79,595.73 395.48,596.67 399.16,597.60 402.85,598.49 406.54,599.36 410.23,600.19 413.91,600.98 417.60,601.74 421.29,602.45 424.98,603.11 428.66,603.74 432.35,604.31 436.04,604.84 439.73,605.34 443.41,605.79 447.10,606.21 450.79,606.60 454.48,606.96 458.16,607.30 461.85,607.62 465.54,607.92 469.23,608.20 472.91,608.47 476.60,608.73" fill="none" stroke="#c22a43" stroke-width="1.3" stroke-dasharray="4.2,2.6"/>
<polyline points="329.10,605.68 332.79,605.87 336.48,606.06 340.16,606.25 343.85,606.45 347.54,606.65 351.23,606.86 354.91,607.06 358.60,607.28 362.29,607.50 365.98,607.73 369.66,607.96 373.35,608.21 377.04,608.47 380.73,608.73 384.41,609.01 388.10,609.31 391.79,609.62 395.48,609.96 399.16,610.32 402.85,610.70 406.54,611.11 410.23,611.56 413.91,612.05 417.60,612.57 421.29,613.14 424.98,613.75 428.66,614.41 432.35,615.12 436.04,615.86 439.73,616.65 443.41,617.48 447.10,618.33 450.79,619.22 454.48,620.14 458.16,621.08 461.85,622.05 465.54,623.03 469.23,624.02 472.91,625.03 476.60,626.06" fill="none" stroke="#c22a43" stroke-width="1.3" stroke-dasharray="4.2,2.6"/>
<line x1="329.10" y1="591.80" x2="476.60" y2="617.39" stroke="#3d5c98" stroke-width="1.1"/>
<circle cx="329.30" cy="595.40" r="1.75" fill="#22407f"/><circle cx="337.60" cy="612.30" r="1.75" fill="#22407f"/><circle cx="387.60" cy="604.20" r="1.75" fill="#22407f"/><circle cx="396.70" cy="605.70" r="1.75" fill="#22407f"/><circle cx="413.00" cy="610.20" r="1.75" fill="#22407f"/><circle cx="425.60" cy="618.50" r="1.75" fill="#22407f"/><circle cx="428.50" cy="622.90" r="1.75" fill="#22407f"/><circle cx="431.10" cy="628.10" r="1.75" fill="#22407f"/><circle cx="432.90" cy="618.50" r="1.75" fill="#22407f"/><circle cx="433.40" cy="611.10" r="1.75" fill="#22407f"/><circle cx="436.00" cy="605.20" r="1.75" fill="#22407f"/><circle cx="438.10" cy="604.70" r="1.75" fill="#22407f"/><circle cx="437.70" cy="618.50" r="1.75" fill="#22407f"/><circle cx="438.90" cy="616.80" r="1.75" fill="#22407f"/><circle cx="438.40" cy="610.20" r="1.75" fill="#22407f"/><circle cx="440.10" cy="609.90" r="1.75" fill="#22407f"/><circle cx="442.00" cy="610.20" r="1.75" fill="#22407f"/><circle cx="448.80" cy="607.00" r="1.75" fill="#22407f"/><circle cx="452.20" cy="612.00" r="1.75" fill="#22407f"/><circle cx="455.70" cy="605.60" r="1.75" fill="#22407f"/><circle cx="464.90" cy="603.50" r="1.75" fill="#22407f"/><circle cx="470.90" cy="613.90" r="1.75" fill="#22407f"/><circle cx="477.30" cy="608.70" r="1.75" fill="#22407f"/><circle cx="339.80" cy="552.30" r="1.75" fill="#22407f"/>
<rect x="0.65" y="0.65" width="518.7" height="717.7" fill="none" stroke="#000" stroke-width="1.3"/>
</svg>
</body></html>
